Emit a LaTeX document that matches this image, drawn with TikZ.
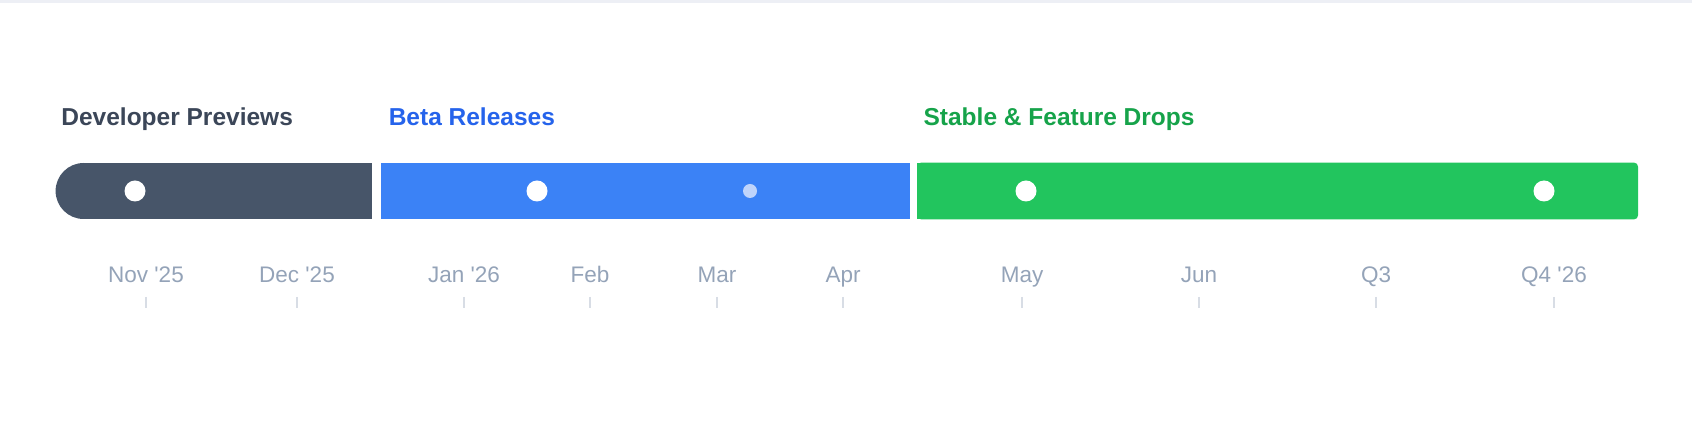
\documentclass[tikz,border=0pt]{standalone}
\usepackage{fontspec}
\setmainfont{Liberation Sans}
\usetikzlibrary{positioning}
\definecolor{devbar}{HTML}{475569}
\definecolor{devtext}{HTML}{3B4658}
\definecolor{betabar}{HTML}{3B82F6}
\definecolor{betatext}{HTML}{2563EB}
\definecolor{betadot}{HTML}{BFD4FB}
\definecolor{stablebar}{HTML}{22C55E}
\definecolor{stabletext}{HTML}{16A34A}
\definecolor{monthgray}{HTML}{94A3B8}
\definecolor{tickgray}{HTML}{D8DDE5}
\definecolor{topline}{HTML}{EDEFF5}

\begin{document}
\begin{tikzpicture}[x=0.5pt,y=-0.5pt,
            segment/.style={rectangle, inner sep=0pt, minimum height=28pt},
            phase/.style={inner sep=0pt, anchor=base west,
                font=\bfseries\fontsize{12.25}{14}\selectfont},
            milestone/.style={circle, fill=white, inner sep=0pt, minimum size=10.5pt},
            minorstone/.style={circle, fill=betadot, inner sep=0pt, minimum size=7pt},
            month/.style={inner sep=0pt, anchor=base, text=monthgray,
                font=\fontsize{11.25}{13}\selectfont},
            tickmark/.style={draw=tickgray, line width=0.75pt},
        ]
            \useasboundingbox (0,0) rectangle (1692,442);
            \fill[topline] (0,0) rectangle (1692,3);

            % phase bars
            \node [segment, fill=devbar, minimum width=144pt] (dev) at (228,191) {};
            \fill[devbar] (dev.west) circle [radius=14pt];
            \node [segment, fill=betabar, minimum width=264.5pt] (beta) [right=4pt of dev] {};
            \node [segment, minimum width=360pt] (stable) [right=3.5pt of beta] {};
            \fill[stablebar, rounded corners=2pt] (stable.north west) rectangle (stable.south east);
            \fill[stablebar] (stable.north west) rectangle ([xshift=5pt]stable.south);

            % phase titles
            \node [phase, text=devtext] (devtitle) at (61,126) {Developer Previews};
            \node [phase, text=betatext] (betatitle) at ([xshift=4pt,yshift=18.5pt]beta.north west) {Beta Releases};
            \node [phase, text=stabletext] (stabletitle) at ([xshift=3pt,yshift=18.5pt]stable.north west) {Stable \& Feature Drops};

            % milestones
            \node [milestone] (ms1) at (135,191) {};
            \node [milestone] (ms2) at (537,191) {};
            \node [minorstone] (ms3) at (750,191) {};
            \node [milestone] (ms4) at (1026,191) {};
            \node [milestone] (ms5) at (1544,191) {};

            % months
            \foreach \x/\t/\n in {146/Nov \textquotesingle25/nov, 297/Dec \textquotesingle25/dec,
                    464/Jan \textquotesingle26/jan, 590/Feb/feb, 717/Mar/mar, 843/Apr/apr,
                    1022/May/may, 1199/Jun/jun, 1376/Q3/qthree, 1554/Q4 \textquotesingle26/qfour} {
                \node [month] (m-\n) at (\x,283) {\t};
                \draw [tickmark] (\x,297) -- (\x,308);
            }
        \end{tikzpicture}
\end{document}
